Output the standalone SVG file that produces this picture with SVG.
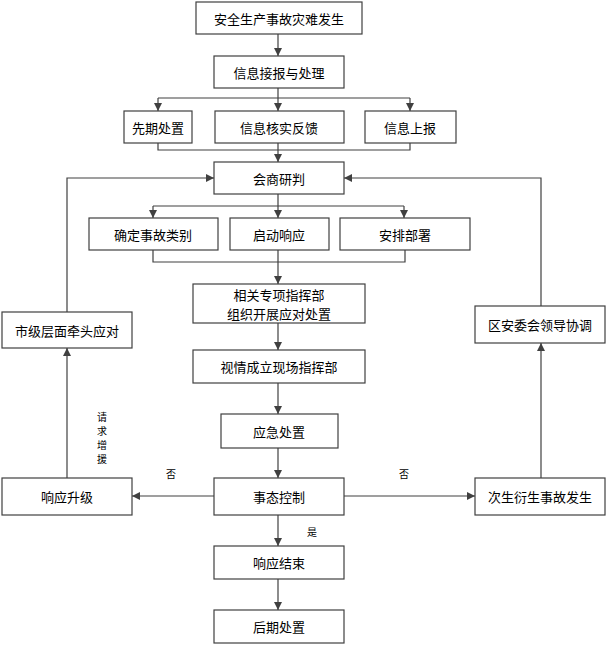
<svg xmlns="http://www.w3.org/2000/svg" width="608" height="646" viewBox="0 0 608 646">
<defs>
<marker id="a" viewBox="0 0 10 10" refX="10" refY="5" markerWidth="8" markerHeight="8" markerUnits="userSpaceOnUse" orient="auto"><path d="M0,0L10,5L0,10z" fill="#404040"/></marker>
<style>
rect{fill:#fff;stroke:#404040;stroke-width:1.2}
text{font-family:"Noto Sans CJK SC",sans-serif;font-size:13px;fill:#000;text-anchor:middle;dominant-baseline:central}
.s{font-size:10px}
#c path{fill:none;stroke:#404040;stroke-width:1.2}
.m{marker-end:url(#a)}
</style>
</defs>
<g id="c">
<path class="m" d="M278,34V56"/>
<path d="M278,88V98M158,98H410"/>
<path class="m" d="M158,98V111"/><path class="m" d="M278,98V111"/><path class="m" d="M410,98V111"/>
<path d="M158,143V150H410V143M278,143V150"/>
<path class="m" d="M278,150V162"/>
<path d="M278,194V206M153,206H404"/>
<path class="m" d="M153,206V218"/><path class="m" d="M278,206V218"/><path class="m" d="M404,206V218"/>
<path d="M153,250V262H405V250M278,250V262"/>
<path class="m" d="M278,262V284"/>
<path class="m" d="M278,323V350"/>
<path class="m" d="M278,383V414"/>
<path class="m" d="M278,448V478"/>
<path class="m" d="M278,515V546"/>
<path class="m" d="M278,579V610"/>
<path class="m" d="M214,496H132"/>
<path class="m" d="M344,496H475"/>
<path class="m" d="M67,478V348"/>
<path class="m" d="M67,312V178H214"/>
<path class="m" d="M541,478V343"/>
<path class="m" d="M541,306V178H344"/>
</g>
<g id="n1"><rect x="196" y="2" width="166" height="32"/><text x="279" y="18">安全生产事故灾难发生</text></g>
<g id="n2"><rect x="214" y="56" width="130" height="32"/><text x="279" y="72">信息接报与处理</text></g>
<g id="n3"><rect x="124" y="111" width="68" height="32"/><text x="158" y="127">先期处置</text></g>
<g id="n4"><rect x="215" y="111" width="129" height="32"/><text x="279" y="127">信息核实反馈</text></g>
<g id="n5"><rect x="365" y="111" width="91" height="32"/><text x="410" y="127">信息上报</text></g>
<g id="n6"><rect x="214" y="162" width="130" height="32"/><text x="279" y="178">会商研判</text></g>
<g id="n7"><rect x="89" y="218" width="129" height="32"/><text x="153" y="234">确定事故类别</text></g>
<g id="n8"><rect x="230" y="218" width="99" height="32"/><text x="279" y="234">启动响应</text></g>
<g id="n9"><rect x="340" y="218" width="130" height="32"/><text x="405" y="234">安排部署</text></g>
<g id="n10"><rect x="193" y="284" width="172" height="39"/><text x="279" y="294">相关专项指挥部</text><text x="279" y="313">组织开展应对处置</text></g>
<g id="n11"><rect x="193" y="350" width="172" height="33"/><text x="279" y="366">视情成立现场指挥部</text></g>
<g id="n12"><rect x="221" y="414" width="117" height="34"/><text x="279" y="431">应急处置</text></g>
<g id="n13"><rect x="214" y="478" width="130" height="37"/><text x="279" y="496">事态控制</text></g>
<g id="n14"><rect x="2" y="478" width="130" height="37"/><text x="67" y="496">响应升级</text></g>
<g id="n15"><rect x="475" y="478" width="130" height="37"/><text x="540" y="496">次生衍生事故发生</text></g>
<g id="n16"><rect x="2" y="312" width="130" height="36"/><text x="67" y="330">市级层面牵头应对</text></g>
<g id="n17"><rect x="475" y="306" width="130" height="37"/><text x="540" y="324">区安委会领导协调</text></g>
<g id="n18"><rect x="214" y="546" width="130" height="33"/><text x="279" y="562">响应结束</text></g>
<g id="n19"><rect x="214" y="610" width="130" height="33"/><text x="279" y="626">后期处置</text></g>
<g id="labels">
<text class="s" x="171" y="473">否</text>
<text class="s" x="404" y="473">否</text>
<text class="s" x="312" y="531">是</text>
<text class="s" x="102" y="416">请</text><text class="s" x="102" y="430">求</text><text class="s" x="102" y="444">增</text><text class="s" x="102" y="458">援</text>
</g>
</svg>
